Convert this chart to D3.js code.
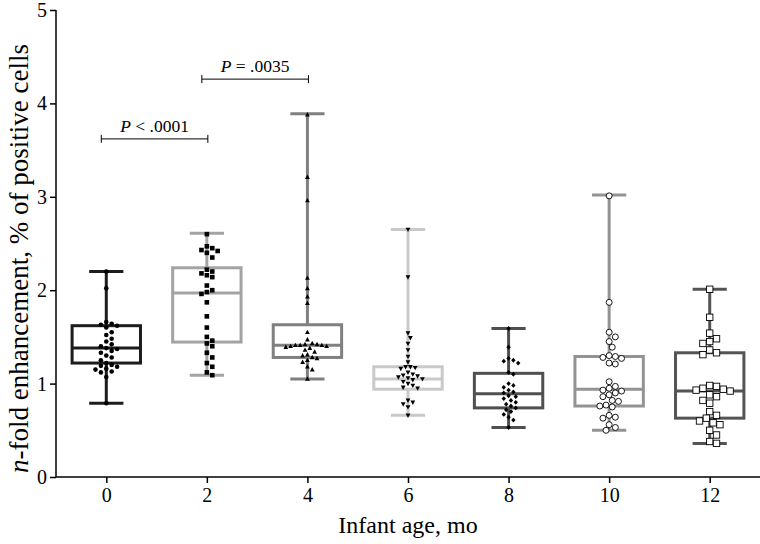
<!DOCTYPE html>
<html>
<head>
<meta charset="utf-8">
<script src="https://cdn.jsdelivr.net/npm/d3@7"></script>
<style>
  html, body { margin: 0; padding: 0; background: #fff; }
  svg { display: block; }
  svg text { font-family: "Liberation Serif", "Times New Roman", serif; fill: #000; }
</style>
</head>
<body>
<svg id="chart" width="760" height="544"></svg>
<script>
// ---------- data ----------
const ages = [0, 2, 4, 6, 8, 10, 12];
const xTicks = [0, 2, 4, 6, 8, 10, 12];
const yTicks = [0, 1, 2, 3, 4, 5];

const whiskerLow  = [0.79, 1.09, 1.05, 0.66, 0.53, 0.50, 0.36];
const q1          = [1.22, 1.445, 1.28, 0.94, 0.74, 0.76, 0.63];
const median      = [1.38, 1.97, 1.41, 1.05, 0.89, 0.94, 0.92];
const q3          = [1.62, 2.24, 1.63, 1.18, 1.11, 1.29, 1.33];
const whiskerHigh = [2.20, 2.61, 3.89, 2.65, 1.59, 3.02, 2.01];

const values0  = [2.20, 2.02, 1.66, 1.64, 1.63, 1.62, 1.60, 1.55, 1.52, 1.48, 1.45, 1.42, 1.40, 1.38, 1.37, 1.35, 1.33, 1.30, 1.28, 1.25, 1.22, 1.20, 1.19, 1.18, 1.16, 1.15, 1.13, 1.12, 1.07, 0.79];
const values2  = [2.60, 2.47, 2.45, 2.43, 2.42, 2.40, 2.35, 2.22, 2.20, 2.18, 2.16, 2.14, 2.05, 2.00, 1.98, 1.96, 1.87, 1.72, 1.60, 1.50, 1.46, 1.43, 1.40, 1.33, 1.28, 1.22, 1.18, 1.12, 1.09];
const values4  = [3.88, 3.21, 2.96, 2.13, 2.02, 1.93, 1.86, 1.55, 1.47, 1.43, 1.42, 1.42, 1.41, 1.41, 1.41, 1.40, 1.40, 1.39, 1.38, 1.36, 1.34, 1.31, 1.30, 1.28, 1.27, 1.25, 1.23, 1.18, 1.15, 1.05];
const values6  = [2.65, 2.14, 1.54, 1.49, 1.43, 1.36, 1.29, 1.23, 1.18, 1.18, 1.17, 1.16, 1.12, 1.10, 1.09, 1.08, 1.07, 1.06, 1.05, 1.04, 1.02, 1.00, 0.98, 0.96, 0.95, 0.82, 0.80, 0.78, 0.75, 0.66];
const values8  = [1.59, 1.39, 1.27, 1.25, 1.24, 1.22, 1.12, 1.10, 1.00, 0.98, 0.96, 0.93, 0.91, 0.90, 0.87, 0.86, 0.84, 0.82, 0.80, 0.78, 0.76, 0.74, 0.72, 0.70, 0.67, 0.64, 0.61, 0.53];
const values10 = [3.01, 1.87, 1.55, 1.50, 1.45, 1.39, 1.30, 1.29, 1.28, 1.27, 1.22, 1.21, 1.02, 0.97, 0.95, 0.93, 0.92, 0.90, 0.88, 0.86, 0.82, 0.81, 0.77, 0.76, 0.75, 0.66, 0.64, 0.63, 0.56, 0.53, 0.50];
const values12 = [2.01, 1.71, 1.54, 1.48, 1.45, 1.43, 1.36, 1.33, 1.31, 0.98, 0.97, 0.95, 0.94, 0.93, 0.92, 0.88, 0.86, 0.82, 0.79, 0.70, 0.66, 0.63, 0.60, 0.58, 0.56, 0.50, 0.45, 0.38, 0.36];

const compareFrom = [0, 2];
const compareTo   = [2, 4];
const compareLevel = [3.62, 4.26];
const comparePrefix = ["P", "P"];
const compareText  = [" < .0001", " = .0035"];

const xTitle = "Infant age, mo";
const yTitleItalic = "n";
const yTitleRest = "-fold enhancement, % of positive cells";

// ---------- styles ----------
const SERIF = '"Liberation Serif", "Times New Roman", serif';
const allValues = [values0, values2, values4, values6, values8, values10, values12];
const boxColors = ["#1c1c1c", "#a3a3a3", "#808080", "#c9c9c9", "#4f4f4f", "#939393", "#545454"];
const markerTypes = ["circle", "square", "triUp", "triDown", "diamond", "openCircle", "openSquare"];

// ---------- layout ----------
const svg = d3.select("#chart");
const x = d3.scaleLinear().domain([-1, 13]).range([56, 760]);
const y = d3.scaleLinear().domain([0, 5]).range([477, 10]);
const boxHalf = 0.68;  // in x units
const capHalf = 0.34;

// axes
const yAxis = svg.append("g").attr("transform", `translate(${x(-1)},0)`)
  .call(d3.axisLeft(y).tickValues(yTicks).tickFormat(d3.format("d")).tickSize(6).tickPadding(3));
const xAxis = svg.append("g").attr("transform", `translate(0,${y(0)})`)
  .call(d3.axisBottom(x).tickValues(xTicks).tickFormat(d3.format("d")).tickSize(6).tickPadding(5));
[yAxis, xAxis].forEach(a => {
  a.attr("font-family", SERIF).attr("font-size", 20);
  a.select(".domain").attr("stroke", "#000").attr("stroke-width", 1.5);
  a.selectAll(".tick line").attr("stroke", "#000").attr("stroke-width", 1.5);
  a.selectAll(".tick text").attr("font-family", SERIF).attr("font-size", 20)
    .style("font-family", SERIF).style("font-size", "20px").attr("fill", "#000");
});
xAxis.select(".domain").attr("d", `M${x(-1)},0H${x(13)}`);
yAxis.select(".domain").attr("d", `M0,${y(5)}V${y(0)}`);

// titles
svg.append("text").attr("x", (x(-1) + x(13)) / 2).attr("y", 533)
  .attr("text-anchor", "middle").style("font-family", SERIF).style("font-size", "24px").text(xTitle);
const yt = svg.append("text").attr("transform", `translate(28,${(y(0) + y(5)) / 2 + 15}) rotate(-90)`)
  .attr("text-anchor", "middle").style("font-family", SERIF).style("font-size", "27px");
yt.append("tspan").style("font-style", "italic").text(yTitleItalic);
yt.append("tspan").text(yTitleRest);

// boxes
const g = svg.append("g");
ages.forEach((a, i) => {
  const c = boxColors[i];
  const gg = g.append("g").attr("stroke", c).attr("stroke-width", 3).attr("fill", "none");
  gg.append("line").attr("x1", x(a)).attr("x2", x(a)).attr("y1", y(whiskerLow[i])).attr("y2", y(q1[i]));
  gg.append("line").attr("x1", x(a)).attr("x2", x(a)).attr("y1", y(q3[i])).attr("y2", y(whiskerHigh[i]));
  gg.append("line").attr("x1", x(a - capHalf)).attr("x2", x(a + capHalf)).attr("y1", y(whiskerLow[i])).attr("y2", y(whiskerLow[i]));
  gg.append("line").attr("x1", x(a - capHalf)).attr("x2", x(a + capHalf)).attr("y1", y(whiskerHigh[i])).attr("y2", y(whiskerHigh[i]));
  gg.append("rect").attr("x", x(a - boxHalf)).attr("y", y(q3[i]))
    .attr("width", x(a + boxHalf) - x(a - boxHalf)).attr("height", y(q1[i]) - y(q3[i]));
  gg.append("line").attr("x1", x(a - boxHalf)).attr("x2", x(a + boxHalf)).attr("y1", y(median[i])).attr("y2", y(median[i]));
});

// beeswarm dodge
function dodge(vals, r, step) {
  const pts = vals.map(v => ({ v, py: y(v) })).sort((p, q) => p.py - q.py);
  const placed = [];
  pts.forEach(p => {
    for (let k = 0; k < 40; k++) {
      const off = (k === 0) ? 0 : (k % 2 ? 1 : -1) * Math.ceil(k / 2) * step;
      const ok = placed.every(o => (o.dx - off) ** 2 + (o.py - p.py) ** 2 >= (2 * r) ** 2);
      if (ok) { p.dx = off; break; }
    }
    placed.push(p);
  });
  return placed;
}

const sym = {
  circle: { r: 2.3, col: 2.7 },
  square: { r: 2.3, col: 2.7 },
  triUp: { r: 2.0, col: 2.4 },
  triDown: { r: 2.0, col: 2.4 },
  diamond: { r: 2.0, col: 2.4 },
  openCircle: { r: 3.0, col: 3.1 },
  openSquare: { r: 3.2, col: 3.4 }
};

const mg = svg.append("g");
ages.forEach((a, i) => {
  const t = markerTypes[i];
  const s = sym[t];
  const pts = dodge(allValues[i], s.col, s.col);
  pts.forEach(p => {
    const cx = x(a) + p.dx, cy = p.py;
    if (t === "circle") {
      mg.append("circle").attr("cx", cx).attr("cy", cy).attr("r", s.r).attr("fill", "#000");
    } else if (t === "openCircle") {
      mg.append("circle").attr("cx", cx).attr("cy", cy).attr("r", s.r).attr("fill", "#fff").attr("stroke", "#000").attr("stroke-width", 0.9);
    } else if (t === "square") {
      mg.append("rect").attr("x", cx - s.r).attr("y", cy - s.r).attr("width", 2 * s.r).attr("height", 2 * s.r).attr("fill", "#000");
    } else if (t === "openSquare") {
      mg.append("rect").attr("x", cx - s.r).attr("y", cy - s.r).attr("width", 2 * s.r).attr("height", 2 * s.r).attr("fill", "#fff").attr("stroke", "#000").attr("stroke-width", 0.9);
    } else if (t === "triUp") {
      mg.append("path").attr("d", `M${cx},${cy - 2.6}L${cx + 2.4},${cy + 1.8}L${cx - 2.4},${cy + 1.8}Z`).attr("fill", "#000");
    } else if (t === "triDown") {
      mg.append("path").attr("d", `M${cx},${cy + 2.6}L${cx + 2.4},${cy - 1.8}L${cx - 2.4},${cy - 1.8}Z`).attr("fill", "#000");
    } else if (t === "diamond") {
      mg.append("path").attr("d", `M${cx},${cy - 2.4}L${cx + 2.2},${cy}L${cx},${cy + 2.4}L${cx - 2.2},${cy}Z`).attr("fill", "#000");
    }
  });
});

// comparison brackets
const ag = svg.append("g");
compareFrom.forEach((f, i) => {
  const x1 = x(f) - 5, x2 = x(compareTo[i]) + 1, yy = y(compareLevel[i]);
  ag.append("path").attr("d", `M${x1},${yy - 4}V${yy + 4}M${x1},${yy}H${x2}M${x2},${yy - 4}V${yy + 4}`)
    .attr("stroke", "#000").attr("stroke-width", 1).attr("fill", "none");
  const t = ag.append("text").attr("x", (x1 + x2) / 2).attr("y", yy - 7)
    .attr("text-anchor", "middle").style("font-family", SERIF).style("font-size", "17.5px");
  t.append("tspan").style("font-style", "italic").text(comparePrefix[i]);
  t.append("tspan").text(compareText[i]);
});
</script>
</body>
</html>
